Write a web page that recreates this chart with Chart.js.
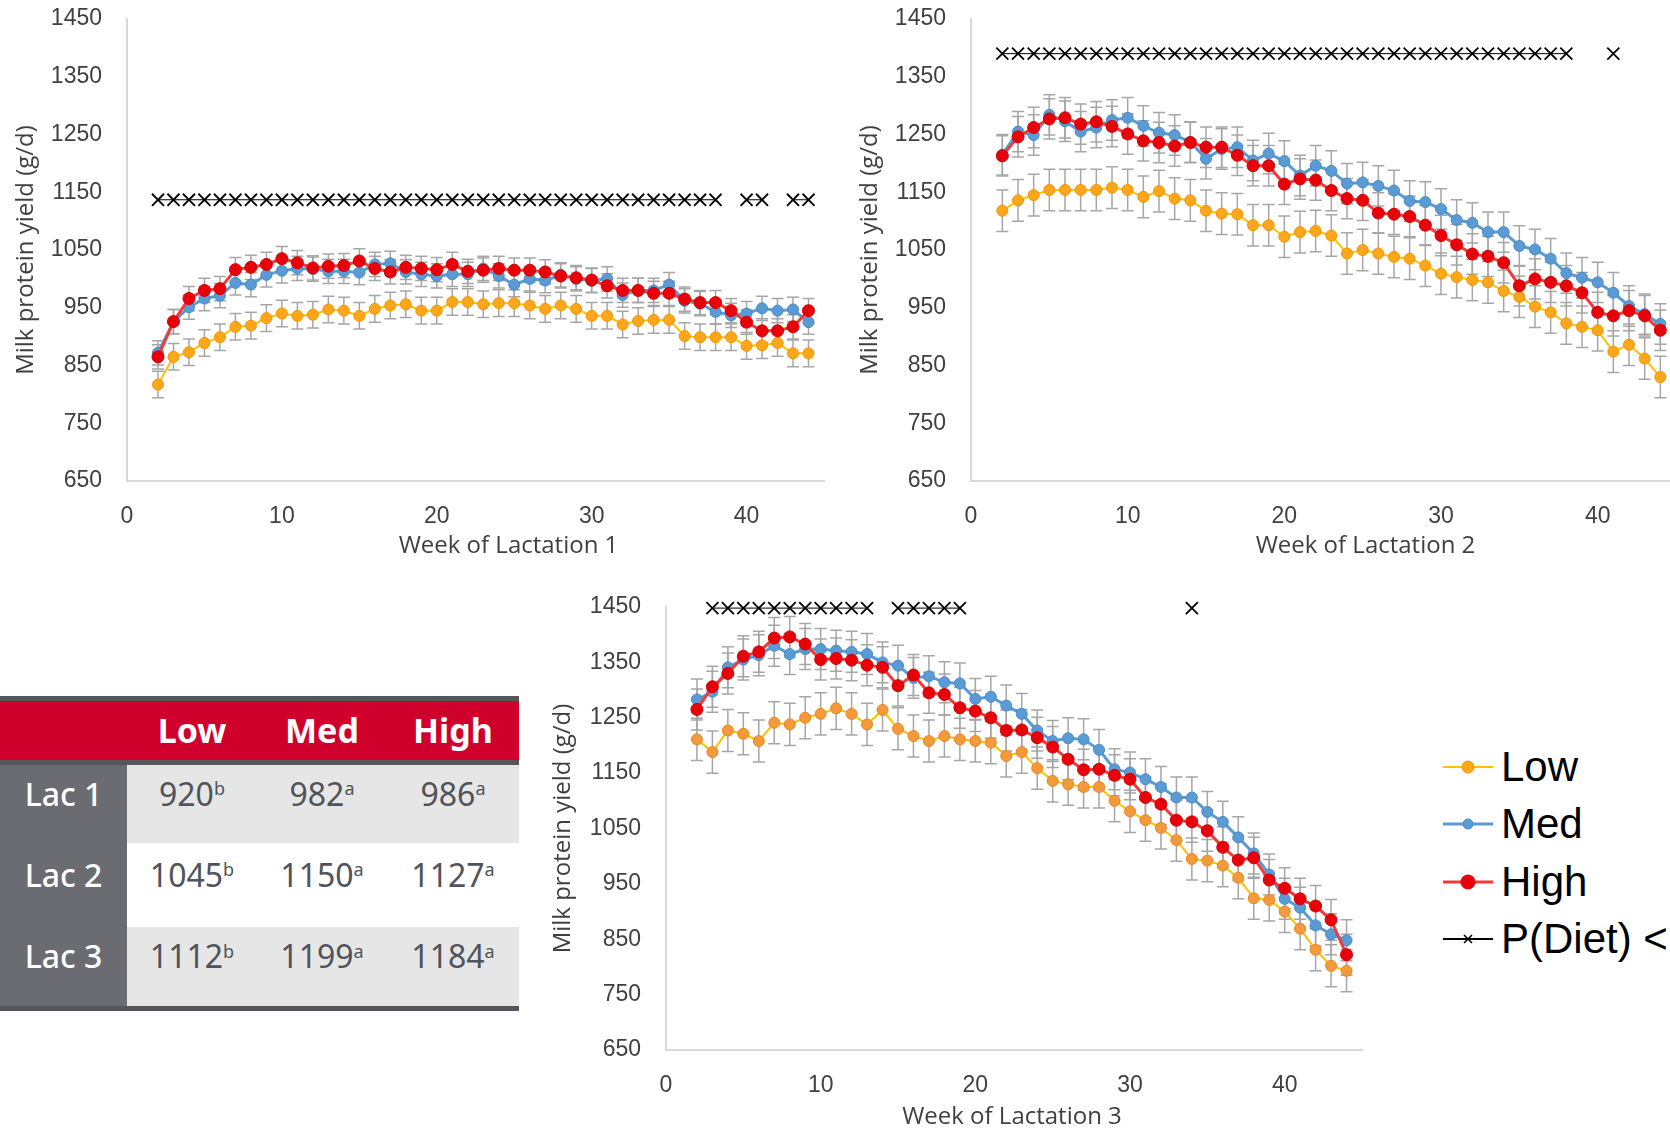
<!DOCTYPE html>
<html>
<head>
<meta charset="utf-8">
<title>Milk protein yield by week of lactation</title>
<script src="https://cdn.jsdelivr.net/npm/chart.js@4.4.0/dist/chart.umd.min.js"></script>
<style>
  html, body { margin: 0; padding: 0; background: #fff; width: 1670px; height: 1130px; overflow: hidden; position: relative; }
  .pane { position: absolute; }
  #tbl { position: absolute; left: 0; top: 696px; width: 519px; font-family: "Noto Sans", sans-serif; }
  #tbl .bar { height: 5px; background: #54565b; }
  #tbl .row { display: grid; grid-template-columns: 127px 130px 130px 132px; }
  #tbl .row div { display: flex; align-items: center; justify-content: center; box-sizing: border-box; padding-bottom: 22px; }
  #tbl .head { background: #d0002c; height: 59px; color: #fff; font-weight: bold; font-size: 34px; }
  #tbl .head div { padding-bottom: 2px; }
  #tbl .lab { background: #6b6c71; color: #fff; font-size: 32px; font-weight: 500; }
  #tbl .val { color: #50535b; font-size: 32px; }
  #tbl sup { font-size: 18px; position: relative; top: -5px; }
  #legend { position: absolute; left: 1443px; top: 738px; font-family: "Liberation Sans", sans-serif; font-size: 42px; color: #000; }
  #legend .item { height: 57.5px; display: flex; align-items: center; white-space: nowrap; }
  #legend svg { margin-right: 8px; }
</style>
</head>
<body>

<div class="pane" style="left:0;top:0"><canvas id="lac1" width="840" height="560"></canvas></div>
<div class="pane" style="left:844px;top:0"><canvas id="lac2" width="860" height="560"></canvas></div>
<div class="pane" style="left:539px;top:580px"><canvas id="lac3" width="840" height="550"></canvas></div>

<div id="tbl"></div>
<div id="legend"></div>

<script>
// weeks of lactation (x values)
var weeks = [2,3,4,5,6,7,8,9,10,11,12,13,14,15,16,17,18,19,20,21,22,23,24,25,26,27,28,29,30,31,32,33,34,35,36,37,38,39,40,41,42,43,44];

// Lactation 1, g/d
var lac1Low  = [817,865,873,889,899,917,919,932,940,936, 938,947,945,936,948,954,956,945,945,960, 960,956,958,958,954,948,954,948,936,936, 921,927,929,929,901,899,899,899,884,885, 889,871,871];
var lac1Med  = [872,926,951,966,971,993,990,1007,1014,1018, 1017,1013,1013,1011,1025,1027,1012,1008,1005,1008, 1008,1018,1005,990,1000,997,1007,1000,997,1000, 972,980,980,990,962,957,943,937,940,949, 945,947,925];
var lac1High = [865,926,966,980,983,1016,1020,1025,1035,1028, 1019,1022,1023,1031,1018,1012,1020,1018,1016,1025, 1013,1015,1018,1015,1015,1012,1005,1002,998,988, 980,980,975,975,965,959,959,945,925,910, 910,917,945];

// Lactation 2
var lac2Low  = [1118,1136,1145,1154,1154,1154,1154,1158,1154,1142, 1152,1139,1136,1118,1113,1112,1093,1093,1073,1081, 1083,1075,1044,1050,1044,1038,1035,1023,1009,1003, 998,994,979,969,952,942,923,917,911,874, 886,862,830];
var lac2Med  = [1215,1255,1249,1284,1273,1255,1262,1275,1279,1265, 1253,1249,1237,1208,1225,1228,1205,1217,1204,1179, 1196,1187,1165,1167,1161,1153,1135,1133,1121,1102, 1097,1081,1081,1057,1051,1035,1010,1002,994,976, 953,939,922];
var lac2High = [1213,1246,1262,1277,1279,1268,1272,1264,1251,1239, 1236,1230,1236,1228,1228,1214,1196,1196,1164,1173, 1171,1153,1139,1136,1114,1112,1108,1093,1075,1059, 1043,1039,1028,988,1000,994,988,976,942,936, 945,936,911];

// Lactation 3
var lac3Low  = [1211,1188,1227,1221,1208,1241,1238,1250,1257,1267, 1257,1238,1264,1230,1217,1208,1217,1211,1208,1205, 1181,1188,1159,1136,1130,1125,1125,1100,1081,1065, 1051,1029,995,992,983,961,924,921,900,869, 831,802,793];
var lac3Med  = [1283,1297,1341,1355,1363,1380,1365,1374,1374,1371, 1369,1365,1350,1344,1322,1325,1314,1312,1284,1288, 1272,1257,1227,1208,1213,1211,1192,1157,1151,1139, 1125,1106,1106,1080,1062,1034,1005,967,923,907, 875,859,848];
var lac3High = [1265,1306,1330,1361,1369,1394,1396,1383,1355,1357, 1354,1345,1341,1308,1327,1295,1292,1268,1262,1250, 1227,1228,1214,1197,1175,1156,1157,1146,1139,1106, 1094,1065,1062,1046,1016,993,997,957,942,923, 910,885,822];

// standard errors (Low, Med, High)
var seLac1 = [23, 21, 21];
var seLac2 = [36, 35, 35];
var seLac3 = [38, 37, 37];

// weeks where P(Diet) is significant, and the height the marks sit at
var pLac1Weeks = [2,3,4,5,6,7,8,9,10,11,12,13,14,15,16,17,18,19,20,21,22,23,24,25,26,27,28,29,30,31,32,33,34,35,36,37,38,40,41,43,44];
var pLac2Weeks = [2,3,4,5,6,7,8,9,10,11,12,13,14,15,16,17,18,19,20,21,22,23,24,25,26,27,28,29,30,31,32,33,34,35,36,37,38,41];
var pLac3Weeks = [3,4,5,6,7,8,9,10,11,12,13,15,16,17,18,19,34];
var pLac1Level = 1137, pLac2Level = 1390, pLac3Level = 1448;

// table of lactation means
var tableCols = ['Low', 'Med', 'High'];
var tableRows = ['Lac 1', 'Lac 2', 'Lac 3'];
var tableMeans = [[920, 982, 986], [1045, 1150, 1127], [1112, 1199, 1184]];
var tableLetters = [['b', 'a', 'a'], ['b', 'a', 'a'], ['b', 'a', 'a']];

var yTicks = [650, 750, 850, 950, 1050, 1150, 1250, 1350, 1450];

// draw the +/- SE whiskers behind the series
var errorBars = {
  id: 'errorBars',
  beforeDatasetsDraw(chart) {
    var ctx = chart.ctx, xs = chart.scales.x, ys = chart.scales.y;
    ctx.save();
    ctx.strokeStyle = '#a6a6a6';
    ctx.lineWidth = 1.5;
    chart.data.datasets.forEach(function(ds) {
      if (ds.se == null) return;
      ds.data.forEach(function(p) {
        if (p.y == null) return;
        var x = xs.getPixelForValue(p.x);
        var y1 = ys.getPixelForValue(p.y - ds.se), y2 = ys.getPixelForValue(p.y + ds.se);
        ctx.beginPath();
        ctx.moveTo(x, y1); ctx.lineTo(x, y2);
        ctx.moveTo(x - 6, y1); ctx.lineTo(x + 6, y1);
        ctx.moveTo(x - 6, y2); ctx.lineTo(x + 6, y2);
        ctx.stroke();
      });
    });
    ctx.restore();
  }
};

// x axis title, Excel puts it a bit off the plot centre
var xTitle = {
  id: 'xTitle',
  afterDraw(chart, args, opts) {
    var ctx = chart.ctx, a = chart.chartArea;
    ctx.save();
    ctx.font = '24px "Open Sans"';
    ctx.fillStyle = '#404040';
    ctx.textAlign = 'center';
    ctx.textBaseline = 'middle';
    ctx.fillText(opts.text, (a.left + a.right) / 2 + opts.shift, opts.y);
    ctx.restore();
  }
};

function points(vals) {
  return weeks.map(function(w, i) { return {x: w, y: vals[i]}; });
}

function pPoints(sigWeeks, level) {
  return weeks.map(function(w) { return {x: w, y: sigWeeks.indexOf(w) >= 0 ? level : null}; });
}

function makeChart(id, low, med, high, se, pWeeks, pLevel, o) {
  return new Chart(document.getElementById(id), {
    type: 'line',
    data: {
      datasets: [
        { label: 'High', data: points(high), se: se[2], borderColor: '#f23a3a', borderWidth: 3,
          pointRadius: 6, pointBackgroundColor: '#e8000b', pointBorderColor: '#d40000', pointBorderWidth: 1, clip: false },
        { label: 'Med', data: points(med), se: se[1], borderColor: '#5b9bd5', borderWidth: 3,
          pointRadius: 5.5, pointBackgroundColor: '#5b9bd5', pointBorderColor: '#4a8ac6', pointBorderWidth: 1, clip: false },
        { label: 'Low', data: points(low), se: se[0], borderColor: '#ffc000', borderWidth: 2,
          pointRadius: 5.5, pointBackgroundColor: o.lowFill, pointBorderColor: o.lowEdge, pointBorderWidth: 1, clip: false },
        { label: 'P(Diet) <', data: pPoints(pWeeks, pLevel), borderColor: '#000', borderWidth: 1,
          pointStyle: 'crossRot', pointRadius: 8.5, pointBorderWidth: 1.8, pointBorderColor: '#000', spanGaps: false, clip: false }
      ]
    },
    options: {
      responsive: false,
      animation: false,
      layout: { autoPadding: false, padding: { left: 0, top: o.top, right: o.right, bottom: 0 } },
      elements: { line: { tension: 0 } },
      plugins: {
        legend: { display: false },
        tooltip: { enabled: false },
        xTitle: { text: o.xText, shift: o.shift, y: o.titleY }
      },
      scales: {
        x: {
          type: 'linear', min: 0, max: 45,
          grid: { display: false, drawTicks: false },
          border: { display: true, color: '#d9d9d9', width: 2 },
          ticks: { stepSize: 10, includeBounds: false, padding: 22, color: '#404040',
                   font: { family: 'Liberation Sans', size: 23 } },
          afterFit: function(s) { s.height = o.xHeight; s.paddingLeft = 0; s.paddingRight = 0; }
        },
        y: {
          min: 650, max: 1450,
          grid: { display: false, drawTicks: false },
          border: { display: true, color: '#d9d9d9', width: 2 },
          afterBuildTicks: function(s) { s.ticks = yTicks.map(function(v) { return {value: v}; }); },
          ticks: { padding: 25, color: '#404040', font: { family: 'Liberation Sans', size: 23 },
                   callback: function(v) { return String(v); } },
          title: { display: true, text: 'Milk protein yield (g/d)', color: '#404040',
                   font: { family: 'Open Sans', size: 24 }, padding: { top: o.yTitlePad, bottom: 0 } },
          afterFit: function(s) { s.width = 127; s.paddingTop = 0; s.paddingBottom = 0; }
        }
      }
    },
    plugins: [errorBars, xTitle]
  });
}

makeChart('lac1', lac1Low, lac1Med, lac1High, seLac1, pLac1Weeks, pLac1Level,
  { top: 19, right: 16, xHeight: 79, xText: 'Week of Lactation 1', shift: 33, titleY: 546, yTitlePad: 12,
    lowFill: '#ffa71a', lowEdge: '#f39200' });
makeChart('lac2', lac2Low, lac2Med, lac2High, seLac2, pLac2Weeks, pLac2Level,
  { top: 19, right: 28, xHeight: 79, xText: 'Week of Lactation 2', shift: 42, titleY: 546, yTitlePad: 12,
    lowFill: '#ffa71a', lowEdge: '#f39200' });
makeChart('lac3', lac3Low, lac3Med, lac3High, seLac3, pLac3Weeks, pLac3Level,
  { top: 27, right: 17, xHeight: 80, xText: 'Week of Lactation 3', shift: -2, titleY: 537, yTitlePad: 10,
    lowFill: '#f39a3c', lowEdge: '#ec8420' });

// table
var tbl = document.getElementById('tbl');
var html = '<div class="bar"></div><div class="row head"><div></div>';
tableCols.forEach(function(c) { html += '<div>' + c + '</div>'; });
html += '</div><div class="bar"></div>';
var rowBg = ['#e6e6e6', '#ffffff', '#e6e6e6'];
var rowH = [78, 84, 79];
tableRows.forEach(function(r, i) {
  html += '<div class="row" style="height:' + rowH[i] + 'px"><div class="lab">' + r + '</div>';
  tableMeans[i].forEach(function(v, j) {
    html += '<div class="val" style="background:' + rowBg[i] + '">' + v + '<sup>' + tableLetters[i][j] + '</sup></div>';
  });
  html += '</div>';
});
html += '<div class="bar"></div>';
tbl.innerHTML = html;

// legend
var legendItems = [
  { text: 'Low', line: '#ffc000', lw: 2, fill: '#ffa71a', edge: '#f39200', r: 6 },
  { text: 'Med', line: '#5b9bd5', lw: 3, fill: '#5b9bd5', edge: '#4a8ac6', r: 5 },
  { text: 'High', line: '#f23a3a', lw: 3, fill: '#e8000b', edge: '#d40000', r: 7 },
  { text: 'P(Diet) <', line: '#000', lw: 2, cross: true }
];
var lg = document.getElementById('legend');
legendItems.forEach(function(it) {
  var mark = it.cross
    ? '<path d="M21 6 L29 14 M29 6 L21 14" stroke="#000" stroke-width="1.6"/>'
    : '<circle cx="25" cy="10" r="' + it.r + '" fill="' + it.fill + '" stroke="' + it.edge + '" stroke-width="1"/>';
  lg.innerHTML += '<div class="item"><svg width="50" height="20"><line x1="0" y1="10" x2="50" y2="10" stroke="' +
    it.line + '" stroke-width="' + it.lw + '"/>' + mark + '</svg>' + it.text + '</div>';
});
</script>
</body>
</html>
